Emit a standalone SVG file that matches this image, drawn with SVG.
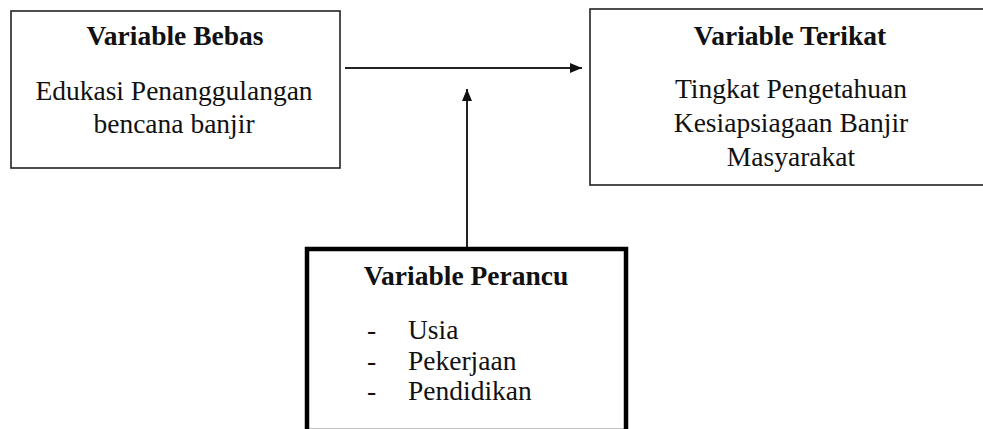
<svg xmlns="http://www.w3.org/2000/svg" width="983" height="429" viewBox="0 0 983 429">
<style>
text{font-family:'Liberation Serif','Times New Roman',serif;font-size:27.5px;fill:#111}
.c{text-anchor:middle}
.b{font-weight:bold}
.box{fill:#fff;stroke:#222;stroke-width:1.6}
.thick{fill:#fff;stroke:#000;stroke-width:4.5}
.conn{stroke:#222;stroke-width:2;fill:none}
</style>
<defs>
<marker id="ah" viewBox="0 0 12 10" refX="12" refY="5" markerWidth="12" markerHeight="10" markerUnits="userSpaceOnUse" orient="auto">
<path d="M0,0 L12,5 L0,10 Z" fill="#111"/>
</marker>
</defs>
<rect width="983" height="429" fill="#fff"/>
<g id="bebas">
<rect class="box" x="11" y="11" width="329" height="157"/>
<text class="c b" x="175" y="45">Variable Bebas</text>
<text class="c" x="174" y="100">Edukasi Penanggulangan</text>
<text class="c" x="174" y="133">bencana banjir</text>
</g>
<g id="terikat">
<rect class="box" x="590" y="9" width="400" height="176" stroke-width="2"/>
<text class="c b" x="790" y="45">Variable Terikat</text>
<text class="c" x="791" y="98">Tingkat Pengetahuan</text>
<text class="c" x="791" y="132">Kesiapsiagaan Banjir</text>
<text class="c" x="791" y="166">Masyarakat</text>
</g>
<g id="perancu">
<rect class="thick" x="307" y="249" width="319" height="182"/>
<text class="c b" x="466" y="285">Variable Perancu</text>
<text x="367" y="339">-</text><text x="408" y="339">Usia</text>
<text x="367" y="370">-</text><text x="408" y="370">Pekerjaan</text>
<text x="367" y="400">-</text><text x="408" y="400">Pendidikan</text>
</g>
<g id="connectors">
<line class="conn" x1="345" y1="68" x2="582" y2="68" marker-end="url(#ah)"/>
<line class="conn" x1="467" y1="247" x2="467" y2="89" stroke="#555" marker-end="url(#ah)"/>
</g>
</svg>
